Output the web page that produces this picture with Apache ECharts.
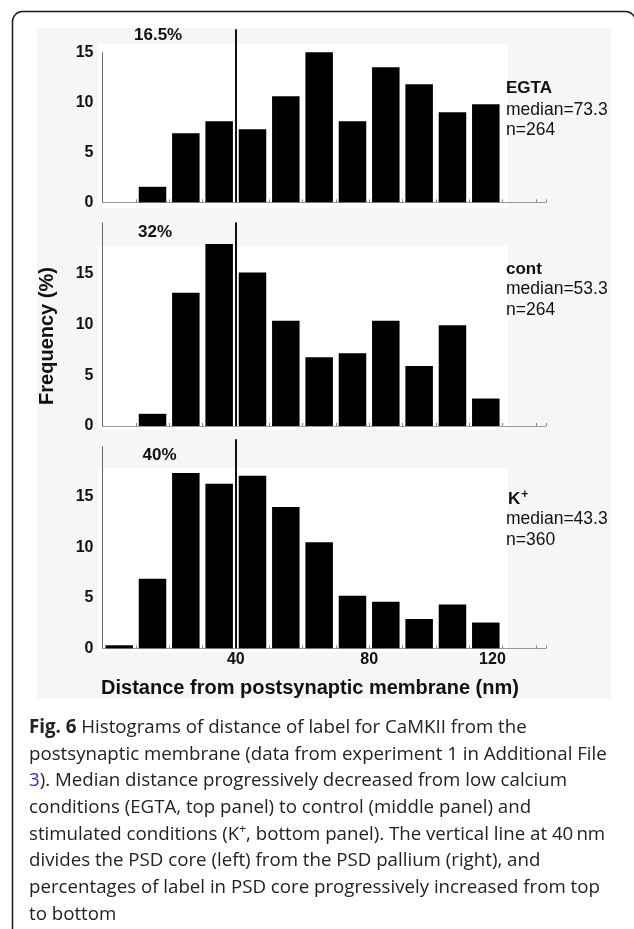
<!DOCTYPE html>
<html>
<head>
<meta charset="utf-8">
<script src="https://cdn.jsdelivr.net/npm/echarts@6.0.0/dist/echarts.min.js"></script>
<style>
  html, body { margin: 0; padding: 0; background: #fff; }
  #wrap { position: relative; width: 634px; height: 929px; overflow: hidden; }
  #chart { position: absolute; left: 0; top: 0; width: 634px; height: 929px; }
  #cap {
    position: absolute; left: 29px; top: 713px;
    font-family: 'Open Sans', 'Noto Sans', sans-serif; font-size: 18.7px;
    line-height: 26.67px; color: #222; white-space: nowrap;
  }
  #cap b { font-weight: 700; }
  #cap .lnk { color: #2b2bd6; }
  #cap sup { font-size: 12px; line-height: 0; }
</style>
</head>
<body>
<div id="wrap">
  <div id="chart"></div>
  <div id="cap">
    <b>Fig. 6</b> Histograms of distance of label for CaMKII from the<br>
    postsynaptic membrane (data from experiment 1 in Additional File<br>
    <span class="lnk">3</span>). Median distance progressively decreased from low calcium<br>
    conditions (EGTA, top panel) to control (middle panel) and<br>
    stimulated conditions (K<sup>+</sup>, bottom panel). The vertical line at 40&#8201;nm<br>
    divides the PSD core (left) from the PSD pallium (right), and<br>
    percentages of label in PSD core progressively increased from top<br>
    to bottom
  </div>
</div>
<script>
// bins of 10 nm, value at bin centre
const binCenters = [5, 15, 25, 35, 45, 55, 65, 75, 85, 95, 105, 115]
const egta  = [0,   1.55, 6.9,  8.1,  7.3,  10.6, 15.0, 8.1,  13.5, 11.8, 9.0,  9.8]
const cont  = [0,   1.2,  13.1, 17.9, 15.1, 10.35, 6.75, 7.15, 10.35, 5.9, 9.9,  2.7]
const kplus = [0.3, 6.9,  17.35, 16.3, 17.1, 14.0, 10.5, 5.2,  4.6,  2.9,  4.35, 2.55]

const panelNames = ['EGTA', 'cont', 'K']
const medians = [73.3, 53.3, 43.3]
const counts = [264, 264, 360]
const coreShare = ['16.5%', '32%', '40%']
const xTickLabels = [40, 80, 120]
const coreLimit = 40

const series = [egta, cont, kplus]
const FONT = "'Liberation Sans', Arial, Helvetica, sans-serif"

// panel geometry (px)
const gridTop = [29.3, 222.6, 439.3]
const gridH = [173, 203.4, 209]
const yMax = [17.3, 20, 20.7]      // top of the 40 nm line
const axisTop = [15, 20, 20]       // where the drawn y axis line stops
const textY = [[88, 110, 130], [269, 289, 310], [499, 519, 540]]
const shareY = [35, 232.7, 455]
const shareX = [134, 138, 142.5]

const chart = echarts.init(document.getElementById('chart'), null, {renderer: 'canvas'})

const grids = [], xAxes = [], yAxes = [], sers = [], graphics = []

// light grey scan background + white plot patches
graphics.push({type: 'rect', z: -20, shape: {x: 37, y: 28, width: 574, height: 670}, style: {fill: '#f6f6f6'}})
graphics.push({type: 'rect', z: -19, shape: {x: 98, y: 44, width: 410, height: 164}, style: {fill: '#fff'}})
graphics.push({type: 'rect', z: -19, shape: {x: 98, y: 246, width: 410, height: 184}, style: {fill: '#fff'}})
graphics.push({type: 'rect', z: -19, shape: {x: 98, y: 468, width: 410, height: 184}, style: {fill: '#fff'}})
// card border (right edge falls just off the page)
graphics.push({type: 'rect', z: -5, shape: {x: 12.5, y: 11.5, width: 623, height: 1000, r: 10},
  style: {fill: 'none', stroke: '#1a1a1a', lineWidth: 1.5}})

for (let i = 0; i < 3; i++) {
  grids.push({left: 102.5, top: gridTop[i], width: 443.3, height: gridH[i], outerBoundsMode: 'none'})
  xAxes.push({
    type: 'value', gridIndex: i, min: 0, max: 133, interval: 10,
    axisLine: {lineStyle: {color: '#999', width: 1}},
    axisTick: {show: true, inside: true, length: 3, lineStyle: {color: '#888'}},
    splitLine: {show: false},
    axisLabel: {
      show: i === 2, margin: 3, fontFamily: FONT, fontSize: 16, fontWeight: 'bold', color: '#111',
      formatter: v => xTickLabels.indexOf(v) < 0 ? '' : (v === 120 ? '{s|120}' : String(v)),
      rich: {s: {fontFamily: FONT, fontSize: 16, fontWeight: 'bold', color: '#111', padding: [0, 20, 0, 0]}}
    }
  })
  yAxes.push({
    type: 'value', gridIndex: i, min: 0, max: yMax[i], interval: 5,
    axisLine: {show: false}, axisTick: {show: false}, splitLine: {show: false},
    axisLabel: {
      margin: 9, fontFamily: FONT, fontSize: 16, fontWeight: 'bold', color: '#111',
      formatter: v => (v % 5 === 0 && v <= 15) ? String(v) : ''
    }
  })
  sers.push({
    type: 'bar', xAxisIndex: i, yAxisIndex: i, barWidth: 27.5, clip: false,
    itemStyle: {color: '#000'}, animation: false,
    data: binCenters.map((c, k) => [c, series[i][k]]),
    markLine: {
      silent: true, symbol: 'none', label: {show: false}, animation: false,
      data: [
        [{coord: [coreLimit, 0], lineStyle: {color: '#111', width: 2, type: 'solid'}}, {coord: [coreLimit, yMax[i]]}],
        [{coord: [0, 0], lineStyle: {color: '#666', width: 1, type: 'solid'}}, {coord: [0, axisTop[i]]}]
      ]
    }
  })

  // panel annotations
  graphics.push({type: 'text', z: 100, x: shareX[i], y: shareY[i],
    style: {text: coreShare[i], font: 'bold 17px ' + FONT, fill: '#111', verticalAlign: 'middle'}})
  if (i === 2) {
    graphics.push({type: 'text', z: 100, x: 508, y: textY[i][0],
      style: {text: '{k|K}{p|+}', verticalAlign: 'middle',
        rich: {k: {font: 'bold 17px ' + FONT, fill: '#111'},
               p: {font: 'bold 12px ' + FONT, fill: '#111', padding: [0, 0, 8, 1]}}}})
  } else {
    graphics.push({type: 'text', z: 100, x: 506, y: textY[i][0],
      style: {text: panelNames[i], font: 'bold 17px ' + FONT, fill: '#111', verticalAlign: 'middle'}})
  }
  graphics.push({type: 'text', z: 100, x: 506, y: textY[i][1],
    style: {text: 'median=' + medians[i], font: '17.5px ' + FONT, fill: '#111', verticalAlign: 'middle'}})
  graphics.push({type: 'text', z: 100, x: 506, y: textY[i][2],
    style: {text: 'n=' + counts[i], font: '17.5px ' + FONT, fill: '#111', verticalAlign: 'middle'}})
}

graphics.push({type: 'text', z: 100, x: 47, y: 336, rotation: Math.PI / 2,
  style: {text: 'Frequency (%)', font: 'bold 20px ' + FONT, fill: '#111', align: 'center', verticalAlign: 'middle'}})
graphics.push({type: 'text', z: 100, x: 310, y: 688.5,
  style: {text: 'Distance from postsynaptic membrane (nm)', font: 'bold 20px ' + FONT, fill: '#111',
    align: 'center', verticalAlign: 'middle'}})

const option = {
  animation: false,
  grid: grids,
  xAxis: xAxes,
  yAxis: yAxes,
  series: sers,
  graphic: graphics
}
chart.setOption(option)
</script>
</body>
</html>
